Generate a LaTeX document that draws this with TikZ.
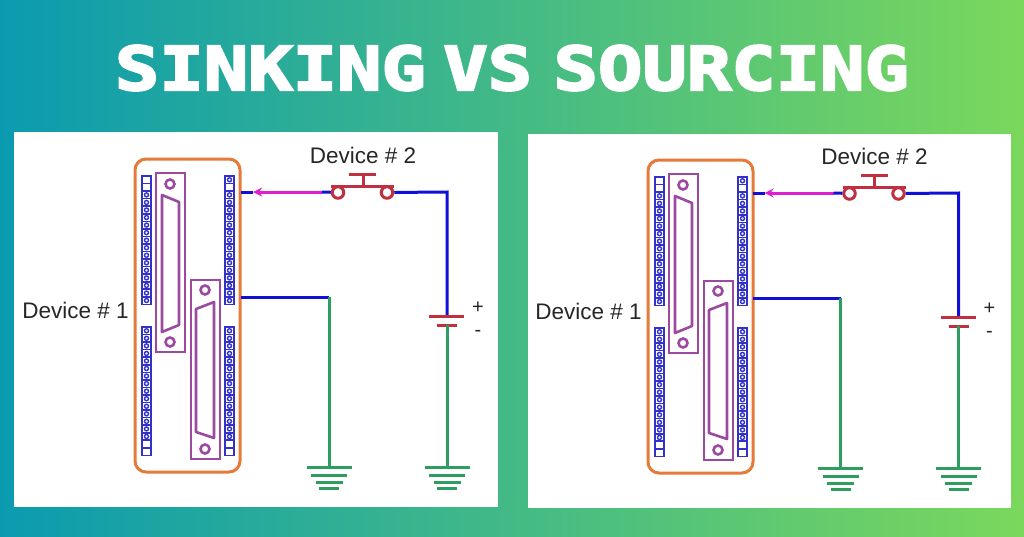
\documentclass[tikz,border=0pt]{standalone}
\usepackage{fontspec}
\setmainfont{Liberation Sans}
\newfontfamily\titlefont[FakeStretch=1.23,FakeBold=4]{DejaVu Sans Mono Bold}
\definecolor{myteal}{RGB}{11,155,176}
\definecolor{mymint}{RGB}{61,184,138}
\definecolor{mylime}{RGB}{123,216,92}
\definecolor{myorange}{RGB}{230,122,58}
\definecolor{mypurple}{RGB}{155,74,160}
\definecolor{myblue}{RGB}{16,16,216}
\definecolor{mycell}{RGB}{50,50,200}
\definecolor{mypink}{RGB}{224,32,208}
\definecolor{myred}{RGB}{192,48,64}
\definecolor{mygreen}{RGB}{46,158,96}
\usetikzlibrary{calc,positioning}
\tikzset{
  label/.style={font=\fontsize{22.5}{24}\selectfont,text=black!85,inner sep=0pt},
  sign/.style={font=\fontsize{20}{20}\selectfont,text=black!85,inner sep=0pt},
  devbox/.style={draw=myorange,line width=3pt,rounded corners=11pt,
    minimum width=105pt,minimum height=313pt,inner sep=0pt},
  connbox/.style={draw=mypurple,line width=2.6pt,minimum width=29pt,minimum height=179pt,inner sep=0pt},
  hole/.style={draw=mypurple,line width=2.6pt,circle,minimum size=9pt,inner sep=0pt},
  contact/.style={draw=myred,line width=3pt,circle,fill=white,minimum size=11.5pt,inner sep=0pt},
  bluewire/.style={draw=myblue,line width=3pt},
  greenwire/.style={draw=mygreen,line width=3pt},
  redbar/.style={draw=myred,line width=3pt},
  cell/.style={draw=mycell,line width=1.6pt}
}
% one strip of screw terminals: x, top y, list of cells with a screw
\newcommand{\termstrip}[3]{
  \foreach \k in {1,...,17}{
    \draw [cell] ({#1},{#2+(\k-1)*7.55}) rectangle ++(9,7.55);
  }
  \foreach \k in {#3}{
    \draw [cell,line width=1.4pt] ({#1+4.5},{#2+(\k-.5)*7.55}) circle (2pt);
  }
}
\begin{document}
\begin{tikzpicture}[x=1pt,y=-1pt]
\useasboundingbox (0,0) rectangle (1024,536);
\shade [left color=myteal,middle color=mymint,right color=mylime] (0,0) rectangle (1024,536);

\node [text=white,font=\titlefont\fontsize{60}{62}\selectfont,inner sep=0pt] (title) at (512,68)
  {SINKING\hspace{-27pt} VS\hspace{-23pt} SOURCING};

\fill [white] (14,132) rectangle (498,507);
\fill [white] (528,134) rectangle (1011,508);

\foreach \s/\dx/\dy/\ex in {l/0/0/0,r/511.5/1/1.5}{
\begin{scope}[shift={(\dx,\dy)}]
  \begin{scope}[xshift=\ex]
  \node [devbox] (\s-dev) at (187.5,315.5) {};
  \node [label] (\s-one) at (75.5,310) {Device \# 1};

  % terminals
  \termstrip{142}{176}{3,...,17}
  \termstrip{225}{176}{1,3,4,...,17}
  \termstrip{142}{327}{1,...,15}
  \termstrip{225}{327}{1,...,15}

  % connectors
  \node [connbox] (\s-conna) at (170.5,262.5) {};
  \node [connbox] (\s-connb) at (205.5,369.5) {};
  \node [hole] (\s-ha) at (170,184) {};
  \node [hole] (\s-hb) at (170,342) {};
  \node [hole] (\s-hc) at (205,290) {};
  \node [hole] (\s-hd) at (205,449) {};
  \draw [mypurple,line width=2.6pt,line join=round] (162,195) -- (179,202) -- (179,325) -- (162,332) -- cycle;
  \draw [mypurple,line width=2.6pt,line join=round] (196,309) -- (214,302) -- (214,438) -- (196,432) -- cycle;
  \end{scope}

  \node [label] (\s-two) at (363,155.5) {Device \# 2};

  % switch
  \coordinate (\s-porta) at (241,192);
  \coordinate (\s-portb) at (241,297);
  \coordinate (\s-mid) at (322,192);
  \coordinate (\s-tip) at (253,192);
  \coordinate (\s-corner) at (447,192);
  \coordinate (\s-drop) at (329,297);
  \coordinate (\s-bata) at (447,316);
  \coordinate (\s-batb) at (447,325);
  \node [contact] (\s-swa) at (338,192.5) {};
  \node [contact] (\s-swb) at (387,192.5) {};
  \draw [bluewire] (\s-porta) -- (\s-tip);
  \draw [draw=mypink,line width=3pt,-stealth] (\s-mid) -- (\s-tip);
  \draw [bluewire] (\s-mid) -- (\s-swa);
  \draw [bluewire] (\s-swb) -- (\s-corner) -- (\s-bata);
  \draw [redbar] (331,186) -- (394,186);
  \draw [redbar] (363,186) -- (363,174);
  \draw [redbar] (349,174) -- (376,174);

  % battery
  \draw [redbar] (429,316) -- (464,316);
  \draw [redbar] (437,325) -- (457,325);
  \node [sign] (\s-plus) at (478,308) {+};
  \node [sign] (\s-minus) at (478,333) {-};

  % grounds
  \foreach \g/\x in {a/329,b/447}{
    \coordinate (\s-gnd\g) at (\x,467);
    \draw [greenwire] ($(\s-gnd\g)+(-22.5,0)$) -- ($(\s-gnd\g)+(22.5,0)$);
    \draw [greenwire] ($(\s-gnd\g)+(-18,8)$) -- ($(\s-gnd\g)+(18,8)$);
    \draw [greenwire] ($(\s-gnd\g)+(-13.5,15)$) -- ($(\s-gnd\g)+(13.5,15)$);
    \draw [greenwire] ($(\s-gnd\g)+(-10,21)$) -- ($(\s-gnd\g)+(10,21)$);
  }
  \draw [bluewire] (\s-portb) -- (\s-drop);
  \draw [greenwire] (\s-drop) -- (\s-gnda);
  \draw [greenwire] (\s-batb) -- (\s-gndb);
\end{scope}
}
\end{tikzpicture}
\end{document}
